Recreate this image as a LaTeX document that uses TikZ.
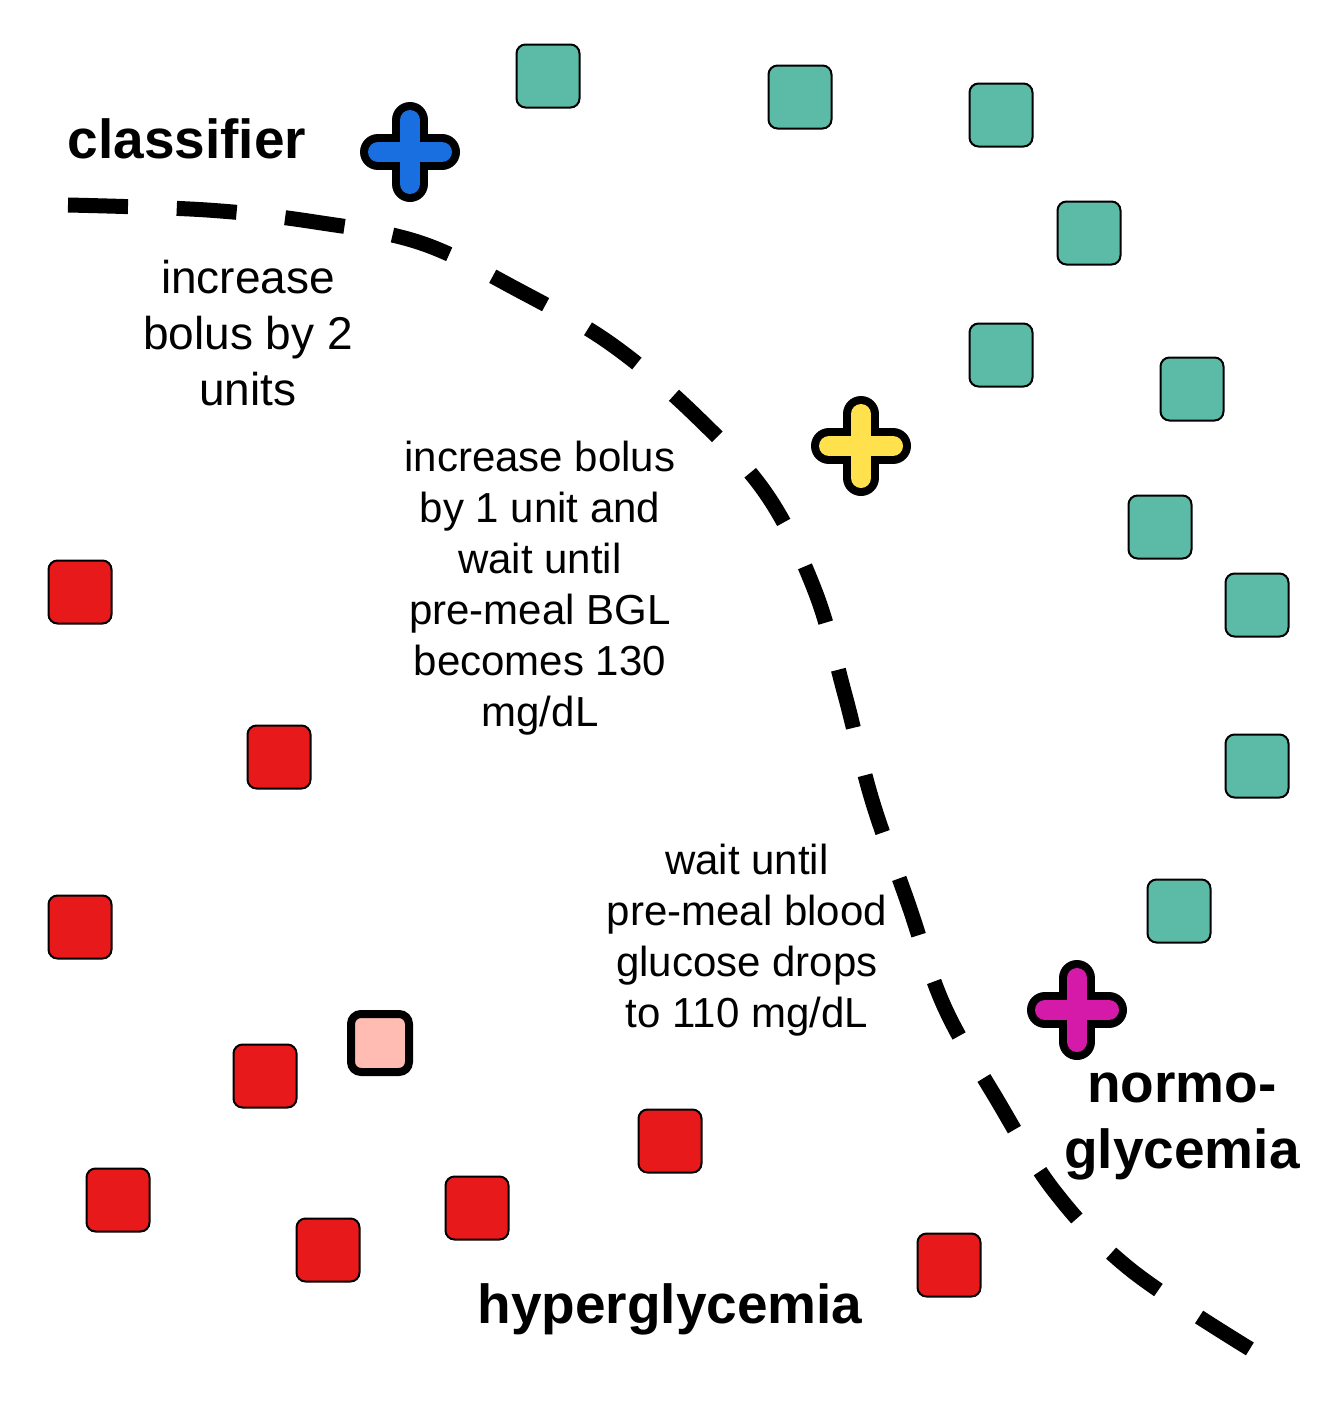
\documentclass[tikz,border=0pt]{standalone}
\usepackage{fontspec}
\setmainfont{Liberation Sans}
\usetikzlibrary{positioning}
\definecolor{CTeal}{HTML}{5BBBA7}
\definecolor{CRed}{HTML}{E8191A}
\definecolor{CPink}{HTML}{FFBCB3}
\definecolor{CBlue}{HTML}{1A6FE0}
\definecolor{CYellow}{HTML}{FFE14D}
\definecolor{CMagenta}{HTML}{D51AAA}

\begin{document}
\begin{tikzpicture}[
    x=1pt, y=-1pt,
    % Reusable styles for the sample boxes and labels
    normo box/.style={draw=black, fill=CTeal, line width=2pt, rounded corners=9pt,
        minimum size=63pt, inner sep=0pt},
    hyper box/.style={draw=black, fill=CRed, line width=2pt, rounded corners=9pt,
        minimum size=63pt, inner sep=0pt},
    query box/.style={draw=black, fill=CPink, line width=8pt, rounded corners=10pt,
        minimum size=58pt, inner sep=0pt},
    plus rim/.style={black, line width=36pt, line cap=round},
    plus core/.style={line width=20pt, line cap=round},
    boundary/.style={black, line width=15pt, dash pattern=on 60pt off 48.8pt},
    advice text/.style={align=center, inner sep=0pt},
    class label/.style={font=\fontsize{55}{66}\selectfont\bfseries, align=center, inner sep=0pt}
]
    \useasboundingbox (0,0) rectangle (1324,1424);

    % Decision boundary of the classifier
    \draw[boundary] plot[smooth, tension=0.6] coordinates {(68,205) (207,210) (315,222) (421,243)
        (520,291) (611,344) (695,415) (767,495) (815,591) (845,695) (872,800) (908,903)
        (944,1006) (996,1098) (1055,1192) (1131,1270) (1250,1349)};

    % -------------------------
    % Normoglycemia samples
    % -------------------------
    \foreach \name/\x/\y in {n1/548/76, n2/800/97, n3/1001/115, n4/1089/233,
        n5/1001/355, n6/1192/389, n7/1160/527, n8/1257/605,
        n9/1257/766, n10/1179/911}
        \node[normo box] (\name) at (\x,\y) {};

    % -------------------------
    % Hyperglycemia samples
    % -------------------------
    \foreach \name/\x/\y in {h1/80/592, h2/279/757, h3/80/927, h4/265/1076,
        h5/118/1200, h6/328/1250, h7/477/1208, h8/670/1141, h9/949/1265}
        \node[hyper box] (\name) at (\x,\y) {};

    % Query patient (highlighted)
    \node[query box] (query) at (380,1043) {};

    % Counterfactual markers (plus shapes: black rim, coloured core)
    \foreach \name/\col/\x/\y in {cfblue/CBlue/410/152, cfyellow/CYellow/861/446,
        cfmagenta/CMagenta/1077/1010}
    {
        \begin{scope}[shift={(\x,\y)}]
            \coordinate (\name) at (0,0);
            \draw[plus rim] (-32,0) -- (32,0) (0,-32) -- (0,32);
            \draw[plus core, \col] (-32,0) -- (32,0) (0,-32) -- (0,32);
        \end{scope}
    }

    % Class labels
    \node[class label, anchor=base] (classifier) at (187,158) {classifier};
    \node[class label, anchor=base] (hyper) at (670,1323) {hyperglycemia};
    \node[class label, anchor=base] (normo) at (1182,1168) {normo-\\glycemia};

    % Advice texts next to each marker
    \node[advice text, font=\fontsize{46}{56}\selectfont] (advice1) at (248,333)
        {increase\\bolus by 2\\units};
    \node[advice text, font=\fontsize{42}{51}\selectfont] (advice2) at (540,588)
        {increase bolus\\by 1 unit and\\wait until\\pre-meal BGL\\becomes 130\\mg/dL};
    \node[advice text, font=\fontsize{42}{51}\selectfont] (advice3) at (747,940)
        {wait until\\pre-meal blood\\glucose drops\\to 110 mg/dL};

\end{tikzpicture}
\end{document}
